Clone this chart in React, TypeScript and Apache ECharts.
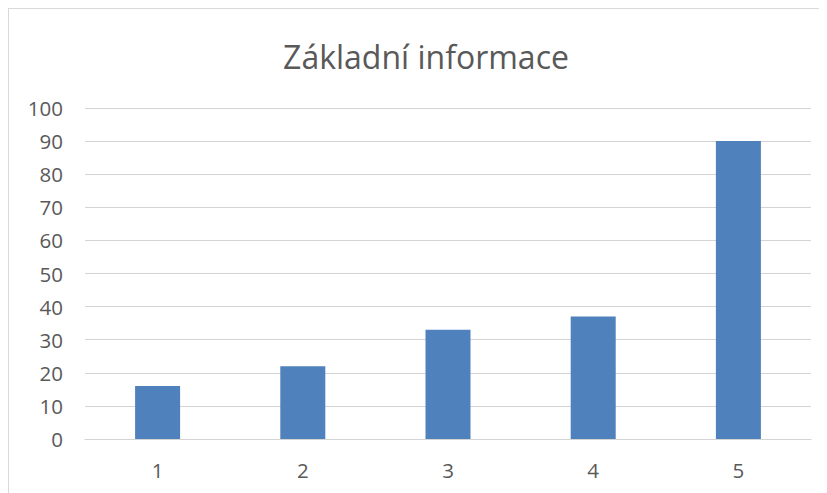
import React, { useEffect, useRef } from "react";
import * as echarts from "echarts";

const categories = ["1", "2", "3", "4", "5"];
const values = [16, 22, 33, 37, 90];
const titleText = "Základní informace";

export default function App() {
  const ref = useRef<HTMLDivElement>(null);
  useEffect(() => {
    if (!ref.current) return;
    const chart = echarts.init(ref.current, null, { renderer: "svg" });
    chart.setOption({
      animation: false,
      textStyle: { fontFamily: "Open Sans" },
      title: {
        text: titleText,
        left: 412,
        top: 26,
        textAlign: "center",
        textStyle: { fontFamily: "Open Sans", fontSize: 32, fontWeight: "normal", color: "#595959" },
      },
      grid: { left: 76, right: 16, top: 99, bottom: 54, containLabel: false },
      xAxis: {
        type: "category",
        data: categories,
        axisLine: { lineStyle: { color: "#d4d4d4", width: 1.2 } },
        axisTick: { show: false },
        axisLabel: { color: "#595959", fontSize: 20.5, margin: 20, fontFamily: "Open Sans" },
      },
      yAxis: {
        type: "value",
        min: 0,
        max: 100,
        interval: 10,
        axisLine: { show: false },
        axisTick: { show: false },
        splitLine: { lineStyle: { color: "#d4d4d4", width: 1.2 } },
        axisLabel: { color: "#595959", fontSize: 20.5, margin: 22, fontFamily: "Open Sans" },
      },
      series: [
        {
          type: "bar",
          data: values,
          barWidth: "31%",
          itemStyle: { color: "#4f81bd" },
        },
      ],
    });
    return () => chart.dispose();
  }, []);
  return (
    <div
      style={{
        width: 819,
        height: 485,
        boxSizing: "border-box",
        borderLeft: "1px solid #d9d9d9",
        borderTop: "1px solid #d9d9d9",
        background: "#fff",
        overflow: "hidden",
      }}
    >
      <div ref={ref} style={{ width: 818, height: 484 }} />
    </div>
  );
}
